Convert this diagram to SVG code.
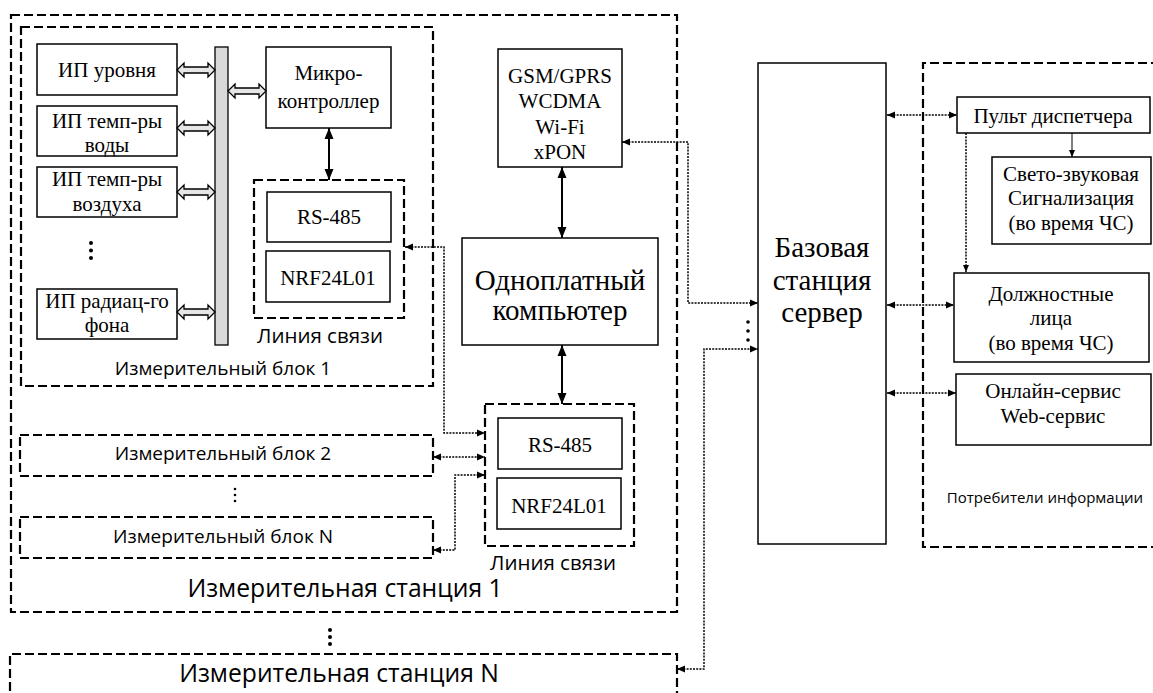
<svg xmlns="http://www.w3.org/2000/svg" width="1153" height="693" viewBox="0 0 1153 693">
<style>
.box{fill:#fff;stroke:#000;stroke-width:1.5}
.dash{fill:none;stroke:#000;stroke-width:2.2;stroke-dasharray:9 4}
.dot{fill:none;stroke:#000;stroke-width:1.5;stroke-dasharray:2 1.2}
.sol{fill:none;stroke:#000;stroke-width:2}
.thin{fill:none;stroke:#000;stroke-width:1}
.hol{fill:#e6e6e6;stroke:#000;stroke-width:1.3}
.t{font-family:"Liberation Serif","Times New Roman",serif;font-size:21px;text-anchor:middle;fill:#000}
.tl{font-family:"Liberation Serif","Times New Roman",serif;font-size:29px;text-anchor:middle;fill:#000}
.s{font-family:"Open Sans","Liberation Sans",sans-serif;text-anchor:middle;fill:#000}
.pt{fill:#000}
</style>
<defs>
<marker id="ad" markerUnits="userSpaceOnUse" markerWidth="8" markerHeight="8" refX="8" refY="4" orient="auto-start-reverse"><path d="M0,0.5 L8,4 L0,7.5 Z" fill="#000"/></marker>
<marker id="ab" markerUnits="userSpaceOnUse" markerWidth="11" markerHeight="10" refX="11" refY="5" orient="auto-start-reverse"><path d="M0,0.5 L11,5 L0,9.5 Z" fill="#000"/></marker>
<marker id="at" markerUnits="userSpaceOnUse" markerWidth="7" markerHeight="7" refX="7" refY="3.5" orient="auto-start-reverse"><path d="M0,0.5 L7,3.5 L0,6.5 Z" fill="#000"/></marker>
</defs>

<g id="station1">
<rect class="dash" x="11" y="15" width="666" height="597"/>
<text class="s" x="345" y="597" font-size="24.7">Измерительная станция 1</text>
</g>

<g id="block1">
<rect class="dash" x="21" y="27" width="412" height="359"/>
<text class="s" x="223" y="375" font-size="19">Измерительный блок 1</text>
</g>

<g id="bus"><rect x="215" y="47" width="13" height="298" fill="#d9d9d9" stroke="#000" stroke-width="1.3"/></g>

<g id="sensor-level"><rect class="box" x="37" y="44" width="140" height="51"/><text class="t" x="107" y="77">ИП уровня</text></g>
<g id="sensor-water"><rect class="box" x="37" y="106" width="140" height="50"/><text class="t" x="107" y="128">ИП темп-ры</text><text class="t" x="107" y="152">воды</text></g>
<g id="sensor-air"><rect class="box" x="37" y="167" width="140" height="50"/><text class="t" x="107" y="186">ИП темп-ры</text><text class="t" x="107" y="211">воздуха</text></g>
<g id="sensor-dots"><circle class="pt" cx="91" cy="243" r="2"/><circle class="pt" cx="91" cy="250.5" r="2"/><circle class="pt" cx="91" cy="258" r="2"/></g>
<g id="sensor-rad"><rect class="box" x="37" y="289" width="140" height="50"/><text class="t" x="107" y="308">ИП радиац-го</text><text class="t" x="107" y="332">фона</text></g>

<g id="mcu"><rect class="box" x="266" y="47" width="125" height="81"/><text class="t" x="328.5" y="80">Микро-</text><text class="t" x="328.5" y="108">контроллер</text></g>

<g id="link1">
<rect class="dash" x="254" y="180" width="150" height="138"/>
<text class="s" x="320" y="343" font-size="20.5">Линия связи</text>
</g>
<g id="rs485-1"><rect class="box" x="267" y="192" width="124" height="50"/><text class="t" x="329" y="224">RS-485</text></g>
<g id="nrf-1"><rect class="box" x="266" y="251" width="124" height="51"/><text class="t" x="328" y="285">NRF24L01</text></g>

<g id="comm"><rect class="box" x="498" y="49" width="124" height="118"/>
<text class="t" x="560" y="83">GSM/GPRS</text><text class="t" x="560" y="108">WCDMA</text><text class="t" x="560" y="134">Wi-Fi</text><text class="t" x="560" y="159">xPON</text></g>

<g id="sbc"><rect class="box" x="462" y="238" width="196" height="107"/><text class="tl" x="560" y="290" font-size="28.5">Одноплатный</text><text class="tl" x="560" y="320" font-size="28.5">компьютер</text></g>

<g id="link2">
<rect class="dash" x="485" y="404" width="149" height="142"/>
<text class="s" x="553" y="570" font-size="20.5">Линия связи</text>
</g>
<g id="rs485-2"><rect class="box" x="498" y="418" width="124" height="51"/><text class="t" x="560" y="452">RS-485</text></g>
<g id="nrf-2"><rect class="box" x="497" y="478" width="124" height="51"/><text class="t" x="559" y="513">NRF24L01</text></g>

<g id="block2"><rect class="dash" x="20" y="435" width="413" height="41"/><text class="s" x="223" y="460" font-size="19">Измерительный блок 2</text></g>
<g id="block-dots"><circle class="pt" cx="235" cy="489" r="1.3"/><circle class="pt" cx="235" cy="495" r="1.3"/><circle class="pt" cx="235" cy="501" r="1.3"/></g>
<g id="blockN"><rect class="dash" x="20" y="517" width="413" height="41"/><text class="s" x="223" y="543" font-size="19">Измерительный блок N</text></g>

<g id="station-dots"><circle class="pt" cx="330" cy="630" r="2"/><circle class="pt" cx="330" cy="637" r="2"/><circle class="pt" cx="330" cy="644" r="2"/></g>
<g id="stationN">
<path class="dash" d="M677,700 V654 H10 V700"/>
<text class="s" x="339" y="682" font-size="24.7">Измерительная станция N</text>
</g>

<g id="base"><rect class="box" x="758" y="63" width="128" height="481"/>
<text class="tl" x="822" y="257">Базовая</text><text class="tl" x="822" y="290">станция</text><text class="tl" x="822" y="322">сервер</text></g>
<g id="base-dots"><circle class="pt" cx="748" cy="322" r="1.8"/><circle class="pt" cx="748" cy="331" r="1.8"/><circle class="pt" cx="748" cy="340" r="1.8"/></g>

<g id="consumers">
<path class="dash" d="M1160,63 H923 V547 H1160"/>
<text class="s" x="1045" y="503" font-size="15">Потребители информации</text>
</g>
<g id="dispatcher"><rect class="box" x="957" y="97" width="193" height="36"/><text class="t" x="1053" y="123">Пульт диспетчера</text></g>
<g id="alarm"><rect class="box" x="992" y="157" width="159" height="87"/><text class="t" x="1071" y="181">Свето-звуковая</text><text class="t" x="1071" y="205">Сигнализация</text><text class="t" x="1071" y="230">(во время ЧС)</text></g>
<g id="officials"><rect class="box" x="954" y="273" width="195" height="89"/><text class="t" x="1051" y="301">Должностные</text><text class="t" x="1051" y="325">лица</text><text class="t" x="1051" y="350">(во время ЧС)</text></g>
<g id="online"><rect class="box" x="956" y="374" width="195" height="71"/><text class="t" x="1053" y="398">Онлайн-сервис</text><text class="t" x="1053" y="423">Web-сервис</text></g>

<g id="connectors">
<path class="hol" d="M177,70 L184,63 L184,67 L208,67 L208,63 L215,70 L208,77 L208,73 L184,73 L184,77 Z"/>
<path class="hol" d="M177,128 L184,121 L184,125 L208,125 L208,121 L215,128 L208,135 L208,131 L184,131 L184,135 Z"/>
<path class="hol" d="M177,192 L184,185 L184,189 L208,189 L208,185 L215,192 L208,199 L208,195 L184,195 L184,199 Z"/>
<path class="hol" d="M177,312 L184,305 L184,309 L208,309 L208,305 L215,312 L208,319 L208,315 L184,315 L184,319 Z"/>
<path class="hol" d="M228,91 L235,84 L235,88 L259,88 L259,84 L266,91 L259,98 L259,94 L235,94 L235,98 Z"/>
<path class="sol" d="M329,128 V180" marker-start="url(#ab)" marker-end="url(#ab)"/>
<path class="sol" d="M562,167 V238" marker-start="url(#ab)" marker-end="url(#ab)"/>
<path class="sol" d="M562,345 V404" marker-start="url(#ab)" marker-end="url(#ab)"/>
<path class="dot" d="M405,247 H444 V433 H485" marker-start="url(#ad)" marker-end="url(#ad)"/>
<path class="dot" d="M433,457 H485" marker-start="url(#ad)" marker-end="url(#ad)"/>
<path class="dot" d="M485,475 H455 V550 H433" marker-start="url(#ad)" marker-end="url(#ad)"/>
<path class="dot" d="M622,142 H688 V303 H758" marker-start="url(#ad)" marker-end="url(#ad)"/>
<path class="dot" d="M677,669 H704 V349 H758" marker-start="url(#ad)" marker-end="url(#ad)"/>
<path class="dot" d="M887,115 H957" marker-start="url(#ad)" marker-end="url(#ad)"/>
<path class="dot" d="M887,305 H954" marker-start="url(#ad)" marker-end="url(#ad)"/>
<path class="dot" d="M887,393 H956" marker-start="url(#ad)" marker-end="url(#ad)"/>
<path class="dot" d="M966,133 V272" marker-end="url(#at)"/>
<path class="thin" d="M1072,133 V157" marker-end="url(#at)"/>
</g>
</svg>
